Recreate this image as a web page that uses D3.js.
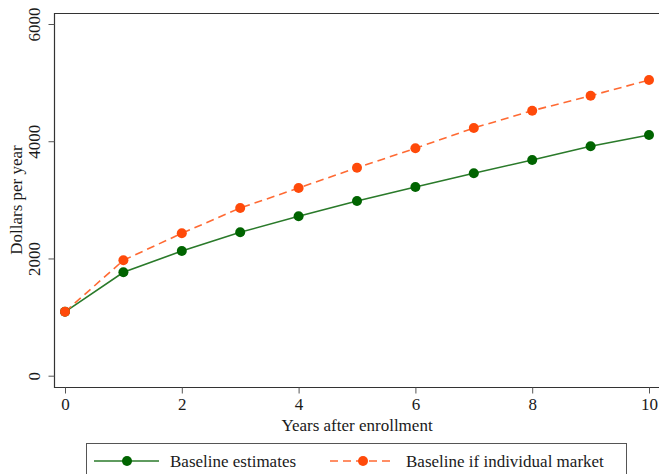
<!DOCTYPE html>
<html>
<head>
<meta charset="utf-8">
<script src="https://cdn.jsdelivr.net/npm/d3@7"></script>
<style>
  body { margin: 0; background: #fff; }
  text { font-family: "Liberation Serif", "Times New Roman", serif; fill: #1a1a1a; }
</style>
</head>
<body>
<script>
// data
const years = [0, 1, 2, 3, 4, 5, 6, 7, 8, 9, 10];
const baseline = [1090, 1765, 2127, 2446, 2719, 2980, 3219, 3453, 3680, 3913, 4106];
const individual = [1090, 1969, 2429, 2861, 3202, 3548, 3879, 4226, 4521, 4776, 5044];
const xTicks = [0, 2, 4, 6, 8, 10];
const yTicks = [0, 2000, 4000, 6000];
const seriesNames = ["Baseline estimates", "Baseline if individual market"];

const width = 659, height = 474;
const fs = "17px";

const svg = d3.select("body").append("svg")
    .attr("width", width)
    .attr("height", height);

const x = d3.scaleLinear().domain([0, 10]).range([65, 649]);
const y = d3.scaleLinear().domain([0, 6000]).range([375.7, 24]);

// plot region frame (runs off the right edge)
svg.append("path")
    .attr("d", "M680,13.5H54.5V387.5H680")
    .attr("fill", "none")
    .attr("stroke", "#333")
    .attr("stroke-width", 1.2);

// y axis
const yAxis = svg.append("g")
    .attr("transform", "translate(54.5,0)")
    .call(d3.axisLeft(y).tickValues(yTicks).tickSize(6).tickFormat(d3.format("d")));
yAxis.select(".domain").remove();
yAxis.selectAll(".tick line").attr("stroke", "#555");
yAxis.selectAll(".tick text")
    .attr("x", null).attr("dy", null)
    .attr("transform", "translate(-15,0) rotate(-90)")
    .attr("text-anchor", "middle")
    .style("font-size", fs)
    .style("font-family", "Liberation Serif");

// x axis
const xAxis = svg.append("g")
    .attr("transform", "translate(0,387.5)")
    .call(d3.axisBottom(x).tickValues(xTicks).tickSize(6).tickFormat(d3.format("d")));
xAxis.select(".domain").remove();
xAxis.selectAll(".tick line").attr("stroke", "#555");
xAxis.selectAll(".tick text")
    .attr("y", 10)
    .style("font-size", fs)
    .style("font-family", "Liberation Serif");

svg.append("text")
    .attr("x", 357).attr("y", 431)
    .attr("text-anchor", "middle")
    .style("font-size", fs)
    .text("Years after enrollment");

svg.append("text")
    .attr("transform", "translate(22,200) rotate(-90)")
    .attr("text-anchor", "middle")
    .style("font-size", fs)
    .text("Dollars per year");

const line = d3.line().x((d, i) => x(years[i])).y(d => y(d));

// baseline estimates
svg.append("path")
    .datum(baseline)
    .attr("d", line)
    .attr("fill", "none")
    .attr("stroke", "#2a7a2a")
    .attr("stroke-width", 1.6);

// individual market, dashed
svg.append("path")
    .datum(individual)
    .attr("d", line)
    .attr("fill", "none")
    .attr("stroke", "#ff6a33")
    .attr("stroke-width", 1.6)
    .attr("stroke-dasharray", "8,5");

svg.append("g").selectAll("circle")
    .data(baseline)
    .enter().append("circle")
    .attr("cx", (d, i) => x(years[i]))
    .attr("cy", d => y(d))
    .attr("r", 5)
    .attr("fill", "#006400");

svg.append("g").selectAll("circle")
    .data(individual)
    .enter().append("circle")
    .attr("cx", (d, i) => x(years[i]))
    .attr("cy", d => y(d))
    .attr("r", 5)
    .attr("fill", "#ff4a0a");

// legend
const legend = svg.append("g");
legend.append("rect")
    .attr("x", 86.5).attr("y", 443.5)
    .attr("width", 540).attr("height", 60)
    .attr("fill", "#fff")
    .attr("stroke", "#555")
    .attr("stroke-width", 1);

const items = [
  {x0: 94, name: seriesNames[0], line: "#2a7a2a", dot: "#006400", dash: null},
  {x0: 330, name: seriesNames[1], line: "#ff6a33", dot: "#ff4a0a", dash: "8,5"}
];
items.forEach(it => {
  legend.append("line")
      .attr("x1", it.x0).attr("x2", it.x0 + 65)
      .attr("y1", 461).attr("y2", 461)
      .attr("stroke", it.line)
      .attr("stroke-width", 1.6)
      .attr("stroke-dasharray", it.dash);
  legend.append("circle")
      .attr("cx", it.x0 + 33).attr("cy", 461).attr("r", 5)
      .attr("fill", it.dot);
  legend.append("text")
      .attr("x", it.x0 + 76).attr("y", 467)
      .style("font-size", fs)
      .text(it.name);
});
</script>
</body>
</html>
